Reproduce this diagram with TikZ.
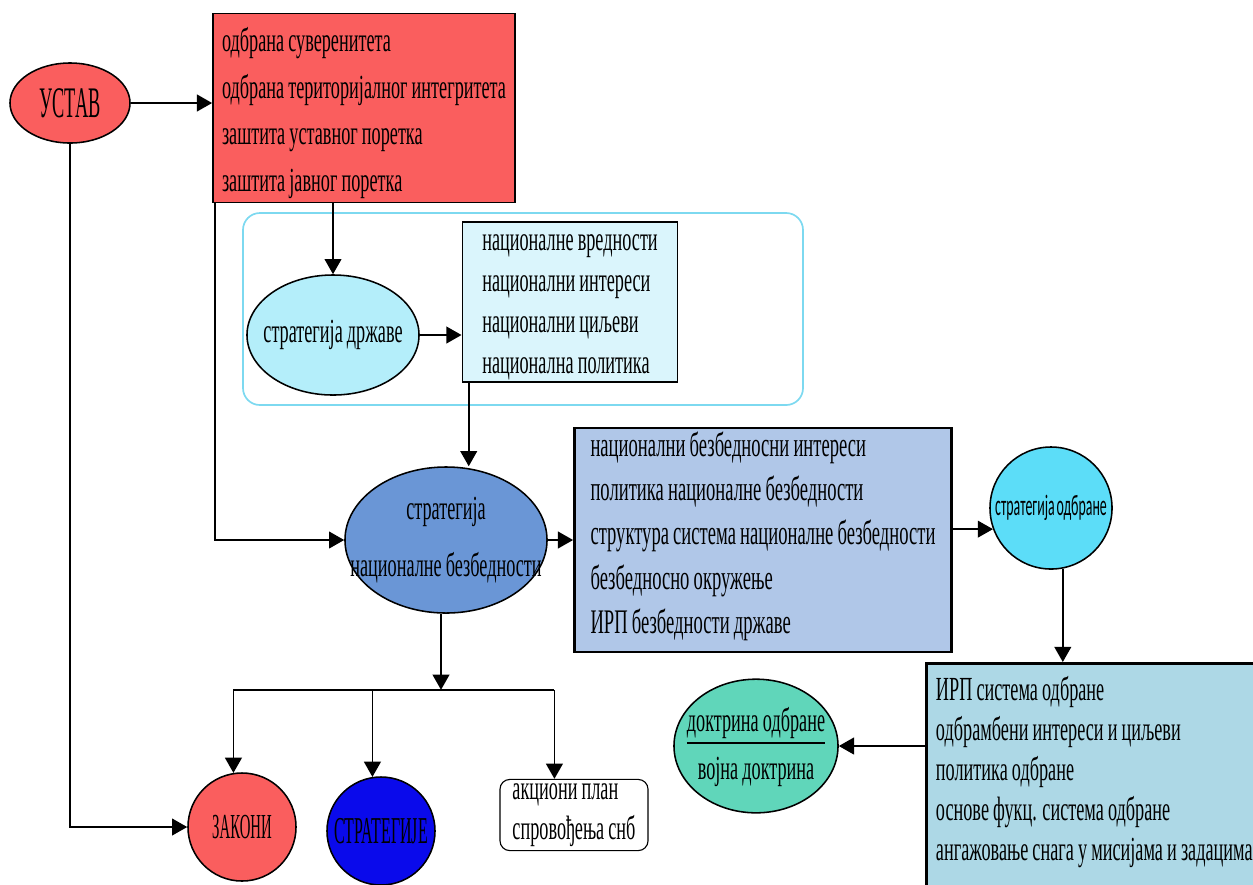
\documentclass[tikz,border=0pt]{standalone}
\usepackage{fontspec}
\setmainfont[FakeStretch=0.54, WordSpace=0.9]{Liberation Serif}
\newfontfamily\tallserif[FakeStretch=0.42, WordSpace=0.6]{Liberation Serif}
\newfontfamily\sansnarrow[FakeStretch=0.47, WordSpace=0.6]{Carlito}
\usetikzlibrary{arrows.meta, positioning, shapes.geometric, calc}
\definecolor{ustavred}{RGB}{250,94,94}
\definecolor{framecyan}{RGB}{125,217,240}
\definecolor{drzcyan}{RGB}{180,238,250}
\definecolor{valcyan}{RGB}{218,245,252}
\definecolor{snbblue}{RGB}{106,150,214}
\definecolor{snbbox}{RGB}{176,199,232}
\definecolor{odbcyan}{RGB}{92,221,248}
\definecolor{odbbox}{RGB}{173,216,230}
\definecolor{doktgreen}{RGB}{96,214,186}
\definecolor{strblue}{RGB}{10,10,235}
% text that does not widen its ellipse
\newcommand\ovaltext[1]{\makebox[0pt]{#1}}

\begin{document}
\begin{tikzpicture}[
  x=0.025cm, y=-0.025cm,
  font=\fontsize{24}{33}\selectfont,
  oval/.style={ellipse, draw=black, line width=1.1pt, inner sep=0pt, align=center},
  list/.style={rectangle, draw=black, very thick, align=left, inner sep=0pt},
  arr/.style={-{Triangle[length=3.8mm, width=4.2mm]}, line width=1.2pt},
  link/.style={line width=1.2pt}
]
\useasboundingbox (0,0) rectangle (1253,884);

% top row
\node[oval, fill=ustavred, minimum width=3cm, minimum height=2cm,
      font=\tallserif\fontsize{31}{31}\selectfont] (ustav) at (70,103) {\ovaltext{УСТАВ}};
\node[list, fill=ustavred, minimum width=7.55cm, minimum height=4.72cm] (def) at (364,108)
  {\\[-8.6pt]одбрана суверенитета\\
   одбрана територијалног интегритета\\
   заштита уставног поретка\\
   заштита јавног поретка};

% state strategy group
\draw[framecyan, line width=1.2pt, rounded corners=12pt] (243,213) rectangle (803,405);
\node[oval, fill=drzcyan, minimum width=4.3cm, minimum height=3cm] (drz) at (333,335)
  {\ovaltext{стратегија државе}};
\node[list, fill=valcyan, minimum width=5.38cm, minimum height=4cm,
      font=\fontsize{24}{29.2}\selectfont] (vals) at (570,302)
  {\\[-10pt]националне вредности\\
   национални интереси\\
   национални циљеви\\
   национална политика};

% national security strategy
\node[oval, fill=snbblue, minimum width=5.05cm, minimum height=3.65cm,
      font=\fontsize{24}{40}\selectfont] (snb) at (446,540)
  {\ovaltext{стратегија}\\\ovaltext{националне безбедности}};
\node[list, fill=snbbox, line width=1.8pt, minimum width=9.43cm, minimum height=5.6cm,
      font=\fontsize{24.5}{31.5}\selectfont] (snbitems) at (763,540)
  {национални безбедносни интереси\\
   политика националне безбедности\\
   структура система националне безбедности\\
   безбедносно окружење\\
   ИРП безбедности државе\\[-21pt]\mbox{}};

% defence strategy
\node[circle, draw=black, line width=1.1pt, fill=odbcyan, minimum size=3.05cm, inner sep=0pt,
      font=\sansnarrow\fontsize{21}{21}\selectfont] (odb) at (1051,508) {\ovaltext{стратегија одбране}};
\node[list, fill=odbbox, line width=1.8pt, minimum width=8.4cm, minimum height=5.9cm,
      inner xsep=0.12cm, anchor=north west,
      font=\fontsize{24}{28.4}\selectfont] (odbitems) at (925,662)
  {ИРП система одбране\\
   одбрамбени интереси и циљеви\\
   политика одбране\\
   основе фукц. система одбране\\
   ангажовање снага у мисијама и задацима\\[-10pt]\mbox{}};
\node[oval, fill=doktgreen, minimum width=4.1cm, minimum height=2.75cm] (dokt) at (756,746)
  {\ovaltext{\begin{tabular}{@{}c@{}}доктрина одбране\\[-2pt]\noalign{\hrule height 1.3pt}
   \rule{0pt}{25pt}војна доктрина\end{tabular}}};

% outputs of the national security strategy
\node[circle, draw=black, line width=1.1pt, fill=ustavred, minimum size=2.7cm, inner sep=0pt,
      font=\tallserif\fontsize{25}{25}\selectfont] (zakoni) at (242,827) {\ovaltext{ЗАКОНИ}};
\node[circle, draw=black, line width=1.1pt, fill=strblue, minimum size=2.7cm, inner sep=0pt,
      font=\tallserif\fontsize{27}{27}\selectfont] (strat) at (381,831) {\ovaltext{СТРАТЕГИЈЕ}};
\node[rectangle, draw=black, thick, fill=white, rounded corners=7pt, align=left,
      minimum width=3.7cm, minimum height=1.78cm, inner sep=0pt,
      font=\fontsize{24}{28}\selectfont] (akc) at (574,815)
  {акциони план\\спровођења снб};

% connectors
\draw[arr] (ustav.east) -- (ustav.east -| def.west);
\draw[arr] (ustav.south) |- (zakoni.west);
\draw[arr] ([xshift=0.08cm]def.south west) |- (snb.west);
\draw[arr] (drz.north |- def.south) -- (drz.north);
\draw[arr] (drz.east) -- (drz.east -| vals.west);
\draw[arr] ([xshift=0.18cm]vals.south west) -- ([xshift=0.18cm]vals.south west |- snb.north);
\draw[arr] (snb.east) -- (snb.east -| snbitems.west);
\draw[arr] (odb.200 -| snbitems.east) -- (odb.200);
\draw[arr] (odb.-79) -- (odb.-79 |- odbitems.north);
\draw[arr] (odbitems.west |- dokt.east) -- (dokt.east);

\coordinate (fork) at ($(snb.south)+(-5,76)$);
\coordinate (akctap) at ($(akc.north west)+(55,0)$);
\draw[arr] (fork |- snb.south) -- (fork);
\draw[link] (fork -| zakoni.99) -- (fork -| akctap);
\draw[arr] (fork -| zakoni.99) -- (zakoni.99);
\draw[arr] (fork -| strat.99) -- (strat.99);
\draw[arr] (fork -| akctap) -- (akctap);
\end{tikzpicture}
\end{document}
